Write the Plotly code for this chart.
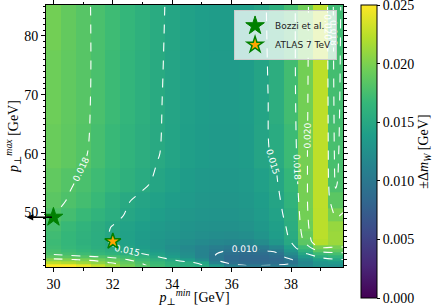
import plotly.graph_objects as go

# ---- data ----
pt_min = [30.0, 30.5, 31.0, 31.5, 32.0, 32.5, 33.0, 33.5, 34.0, 34.5, 35.0,
          35.5, 36.0, 36.5, 37.0, 37.5, 38.0, 38.5, 39.0, 39.5, 40.0]
pt_max = [41, 41.5, 42, 42.5, 43, 43.5, 44, 45, 46, 47.5, 49.5, 52, 55, 60, 70, 85]

row_41   = [0.0262,0.0255,0.0242,0.0228,0.0212,0.0196,0.0183,0.0172,0.0163,0.0157,0.0152,0.0135,0.0108,0.0100,0.0100,0.0102,0.0108,0.0118,0.0128,0.0125,0.0130]
row_41_5 = [0.0225,0.0220,0.0213,0.0206,0.0198,0.0188,0.0178,0.0168,0.0159,0.0154,0.0145,0.0110,0.0092,0.0088,0.0088,0.0090,0.0096,0.0115,0.0130,0.0135,0.0140]
row_42   = [0.0205,0.0202,0.0198,0.0194,0.0188,0.0180,0.0170,0.0160,0.0150,0.0138,0.0122,0.0100,0.0088,0.0084,0.0084,0.0087,0.0098,0.0122,0.0140,0.0148,0.0150]
row_42_5 = [0.0186,0.0184,0.0182,0.0180,0.0176,0.0170,0.0161,0.0150,0.0138,0.0126,0.0113,0.0098,0.0088,0.0085,0.0086,0.0090,0.0110,0.0135,0.0155,0.0162,0.0162]
row_43   = [0.0178,0.0175,0.0171,0.0167,0.0162,0.0156,0.0150,0.0142,0.0132,0.0123,0.0112,0.0100,0.0092,0.0089,0.0090,0.0096,0.0120,0.0148,0.0170,0.0175,0.0175]
row_43_5 = [0.0175,0.0170,0.0166,0.0161,0.0156,0.0150,0.0143,0.0135,0.0127,0.0120,0.0112,0.0104,0.0097,0.0095,0.0097,0.0105,0.0130,0.0160,0.0185,0.0188,0.0188]
row_44   = [0.0172,0.0167,0.0162,0.0157,0.0151,0.0145,0.0138,0.0131,0.0124,0.0118,0.0112,0.0107,0.0103,0.0102,0.0105,0.0115,0.0140,0.0170,0.0198,0.0198,0.0198]
row_45   = [0.0170,0.0165,0.0159,0.0155,0.0148,0.0142,0.0136,0.0131,0.0127,0.0123,0.0119,0.0116,0.0114,0.0115,0.0121,0.0132,0.0150,0.0185,0.0222,0.0212,0.0210]
row_46   = [0.0172,0.0166,0.0160,0.0155,0.0148,0.0142,0.0137,0.0133,0.0130,0.0127,0.0124,0.0122,0.0121,0.0123,0.0129,0.0138,0.0153,0.0190,0.0224,0.0212,0.0212]
row_47_5 = [0.0175,0.0168,0.0162,0.0156,0.0149,0.0143,0.0139,0.0135,0.0132,0.0129,0.0127,0.0126,0.0126,0.0128,0.0133,0.0140,0.0155,0.0194,0.0224,0.0210,0.0212]
row_49_5 = [0.0180,0.0174,0.0168,0.0162,0.0155,0.0148,0.0143,0.0139,0.0135,0.0132,0.0130,0.0129,0.0129,0.0131,0.0136,0.0143,0.0158,0.0196,0.0224,0.0198,0.0205]
row_52   = [0.0185,0.0179,0.0174,0.0168,0.0158,0.0151,0.0146,0.0142,0.0138,0.0135,0.0132,0.0131,0.0131,0.0133,0.0138,0.0145,0.0162,0.0197,0.0225,0.0185,0.0198]
row_55   = [0.0188,0.0182,0.0177,0.0171,0.0165,0.0159,0.0153,0.0147,0.0142,0.0137,0.0134,0.0133,0.0133,0.0135,0.0141,0.0148,0.0166,0.0197,0.0225,0.0178,0.0196]
row_60   = [0.0192,0.0187,0.0182,0.0175,0.0168,0.0162,0.0156,0.0151,0.0145,0.0140,0.0137,0.0135,0.0135,0.0137,0.0146,0.0153,0.0170,0.0197,0.0225,0.0176,0.0195]
row_70   = [0.0194,0.0188,0.0183,0.0177,0.0170,0.0164,0.0158,0.0152,0.0146,0.0141,0.0138,0.0136,0.0136,0.0138,0.0145,0.0156,0.0173,0.0196,0.0225,0.0174,0.0195]
row_85   = [0.0196,0.0189,0.0183,0.0177,0.0171,0.0165,0.0159,0.0153,0.0147,0.0142,0.0139,0.0137,0.0137,0.0139,0.0146,0.0158,0.0174,0.0195,0.0224,0.0172,0.0195]

delta_mw = [row_41, row_41_5, row_42, row_42_5, row_43, row_43_5, row_44, row_45,
            row_46, row_47_5, row_49_5, row_52, row_55, row_60, row_70, row_85]

contour_levels = [0.010, 0.015, 0.018, 0.020]
cbar_tickvals = [0.000, 0.005, 0.010, 0.015, 0.020, 0.02499]
cbar_ticktext = ["0.000", "0.005", "0.010", "0.015", "0.020", "0.025"]

bozzi = dict(x=[30.0], y=[49.2])
atlas = dict(x=[32.0], y=[45.1])
arrow_tip_x = 29.1

# ---- figure ----
SERIF = "Liberation Serif, DejaVu Serif, serif"
fig = go.Figure()

fig.add_trace(go.Heatmap(
    x=pt_min, y=pt_max, z=delta_mw, colorscale="Viridis", zmin=0, zmax=0.025,
    hoverinfo="skip", showlegend=False,
    colorbar=dict(
        x=1.0606, xanchor="left", y=1.0, yanchor="top",
        lenmode="pixels", len=293, thicknessmode="pixels", thickness=16,
        outlinewidth=1, outlinecolor="black", xpad=0, ypad=0,
        tickvals=cbar_tickvals, ticktext=cbar_ticktext, ticks="outside", ticklen=3,
        ticklabeloverflow="allow",
        tickcolor="black", tickfont=dict(family=SERIF, size=14, color="black"),
        title=dict(text="±Δ<i>m</i><sub><i>W</i></sub> [GeV]", side="right",
                   font=dict(family=SERIF, size=14, color="black")),
    ),
))

for lvl in contour_levels:
    fig.add_trace(go.Contour(
        x=pt_min, y=pt_max, z=delta_mw, autocontour=False, showscale=False,
        contours=dict(start=lvl, end=lvl, size=0.001, coloring="none",
                      showlabels=True, labelformat=".3f",
                      labelfont=dict(color="white", size=9, family="DejaVu Sans")),
        line=dict(color="white", dash="dash", width=1.1),
        hoverinfo="skip", showlegend=False,
    ))

fig.add_trace(go.Scatter(
    x=bozzi["x"], y=bozzi["y"], mode="markers", name="Bozzi et al.",
    marker=dict(symbol="star", size=14, color="green", line=dict(color="green", width=1)),
    cliponaxis=False,
))
fig.add_trace(go.Scatter(
    x=atlas["x"], y=atlas["y"], mode="markers", name="ATLAS 7 TeV",
    marker=dict(symbol="star", size=12, color="orange", line=dict(color="green", width=1.5)),
))

fig.add_annotation(
    x=arrow_tip_x, y=bozzi["y"][0], ax=bozzi["x"][0], ay=bozzi["y"][0],
    xref="x", yref="y", axref="x", ayref="y", text="", showarrow=True,
    arrowhead=2, arrowsize=1, arrowwidth=1.3, arrowcolor="black",
)

axis_common = dict(
    showline=True, linecolor="black", linewidth=1, mirror="allticks",
    ticks="outside", ticklen=4, tickcolor="black", showgrid=False, zeroline=False,
    tickfont=dict(family=SERIF, size=14, color="black"),
)
fig.update_xaxes(
    range=[29.75, 39.75], dtick=2, tick0=30,
    minor=dict(dtick=1, ticks="outside", ticklen=2.5, tickcolor="black", showgrid=False),
    title=dict(text="<i>p</i><sub>⊥</sub><sup><i>min</i></sup> [GeV]",
               font=dict(family=SERIF, size=14, color="black"), standoff=0),
    **axis_common,
)
fig.update_yaxes(
    range=[40.75, 85.25], dtick=10, tick0=50,
    minor=dict(dtick=1, ticks="outside", ticklen=2.5, tickcolor="black", showgrid=False),
    title=dict(text="<i>p</i><sub>⊥</sub><sup><i>max</i></sup> [GeV]",
               font=dict(family=SERIF, size=14, color="black"), standoff=2),
    **axis_common,
)

fig.update_layout(
    width=436, height=307,
    margin=dict(l=46, r=93, t=5, b=40, autoexpand=False),
    paper_bgcolor="white", plot_bgcolor="white",
    legend=dict(x=0.98, y=0.98, xanchor="right", yanchor="top",
                bgcolor="rgba(255,255,255,0.75)", bordercolor="#cccccc", borderwidth=1,
                font=dict(family="DejaVu Sans", size=9, color="#222"),
                itemsizing="trace", tracegroupgap=0),
    showlegend=True,
)

fig.write_html(
    "out.html",
    config={"displayModeBar": False},
    post_script="document.body.style.margin='0';document.body.style.overflow='hidden';",
)
